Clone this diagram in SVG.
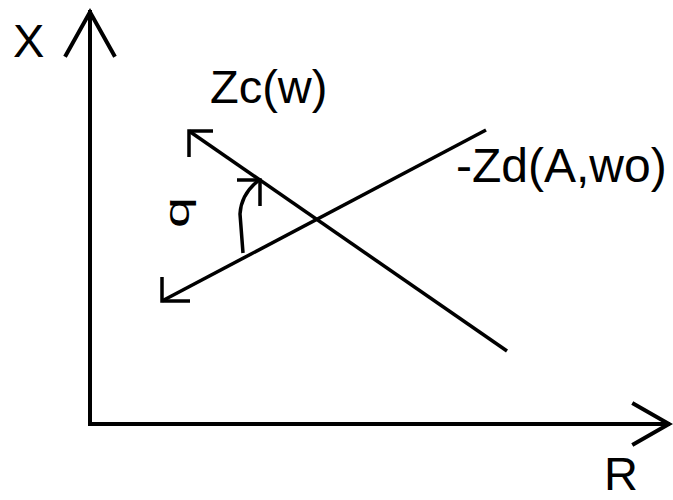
<svg xmlns="http://www.w3.org/2000/svg" width="673" height="500" viewBox="0 0 673 500">
<style>
.ax{stroke:#000;stroke-width:4;fill:none;stroke-linecap:square}
.ln{stroke:#000;stroke-width:3.5;fill:none;stroke-linecap:butt}
.t{font-family:"Liberation Sans",Arial,sans-serif;font-size:47px;fill:#000}
</style>
<rect width="673" height="500" fill="#fff"/>
<g id="axes">
<path class="ax" d="M90,12 V424 H668"/>
<path class="ax" d="M66,55 L90,12 L114,55"/>
<path class="ax" d="M634,404 L669,424 L634,444"/>
<text class="t" x="13" y="57">X</text>
<text class="t" x="604" y="490">R</text>
</g>
<g id="connectors">
<g id="zc">
<path class="ln" d="M189,131 L507,351"/>
<path class="ln" d="M213,131 H189 V157"/>
</g>
<g id="zd">
<path class="ln" d="M162,301 L486,130"/>
<path class="ln" d="M162,277 V301 H190"/>
</g>
<g id="angle">
<path class="ln" d="M243,253 L240,214 Q241,194 259,180"/>
<path class="ln" d="M237,180 H260 V206"/>
</g>
</g>
<g id="labels">
<text class="t" x="210" y="103">Zc(w)</text>
<text class="t" x="456" y="182" style="font-size:48px">-Zd(A,wo)</text>
<text class="t" transform="translate(189,228) rotate(-90) scale(1.4,0.9)" style="font-size:40px">q</text>
</g>
</svg>
